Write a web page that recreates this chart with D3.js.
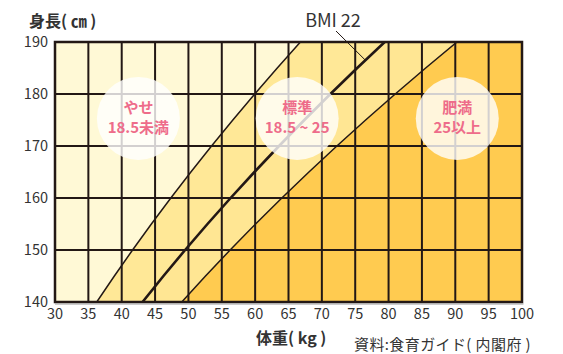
<!DOCTYPE html>
<html>
<head>
<meta charset="utf-8">
<script src="https://cdn.jsdelivr.net/npm/d3@7"></script>
<style>
  body { margin: 0; background: #fff; }
  text { font-family: "Noto Sans CJK JP", "Noto Sans", sans-serif; }
</style>
</head>
<body>
<svg width="563" height="354"></svg>
<script>
// values
const weightTicks = [30, 35, 40, 45, 50, 55, 60, 65, 70, 75, 80, 85, 90, 95, 100];
const heightTicks = [140, 150, 160, 170, 180, 190];
const heightSteps = [140, 145, 150, 155, 160, 165, 170, 175, 180, 185, 190];
const bmiLines = [18.5, 22, 25];
const bandColors = ["#fff9d6", "#ffe897", "#ffe693", "#ffcb50"];
const labelNames = ["やせ", "標準", "肥満"];
const labelRanges = ["18.5未満", "18.5 ~ 25", "25以上"];
const labelWeights = [42.5, 66.3, 90.3];
const labelHeight = 175.3;

const svg = d3.select("svg");

const x = d3.scaleLinear().domain([30, 100]).range([55, 522]);
const y = d3.scaleLinear().domain([140, 190]).range([302, 42]);

// weight on a BMI line for a given height
const wAt = (bmi, h) => bmi * h * h / 10000;

const linePts = bmi => heightSteps.map(h => [x(wAt(bmi, h)), y(h)]);

// bands
const bands = [];
bands.push([[x(30), y(140)], [x(30), y(190)], ...linePts(bmiLines[0]).reverse()]);
for (let i = 0; i < bmiLines.length - 1; i++) {
  bands.push([...linePts(bmiLines[i]), ...linePts(bmiLines[i + 1]).reverse()]);
}
bands.push([...linePts(bmiLines[2]), [x(100), y(190)], [x(100), y(140)]]);

svg.append("defs").append("clipPath").attr("id", "plot")
  .append("rect")
  .attr("x", x(30)).attr("y", y(190))
  .attr("width", x(100) - x(30)).attr("height", y(140) - y(190));

const plot = svg.append("g").attr("clip-path", "url(#plot)");

plot.selectAll(".band")
  .data(bands)
  .join("path")
  .attr("class", "band")
  .attr("fill", (d, i) => bandColors[i])
  .attr("d", d => "M" + d.join("L") + "Z");

// grid
svg.append("g")
  .selectAll("line")
  .data(weightTicks)
  .join("line")
  .attr("x1", d => x(d)).attr("x2", d => x(d))
  .attr("y1", y(190)).attr("y2", y(140))
  .attr("stroke", "#231815")
  .attr("stroke-width", 2);

svg.append("g")
  .selectAll("line")
  .data(heightTicks)
  .join("line")
  .attr("x1", x(30)).attr("x2", x(100))
  .attr("y1", d => y(d)).attr("y2", d => y(d))
  .attr("stroke", "#231815")
  .attr("stroke-width", 2);

// bmi lines
plot.selectAll(".bmi")
  .data(bmiLines)
  .join("path")
  .attr("class", "bmi")
  .attr("fill", "none")
  .attr("stroke", "#231815")
  .attr("stroke-width", d => d == 22 ? 2.6 : 1.5)
  .attr("d", d => d3.line()(linePts(d)));

// frame
svg.append("rect")
  .attr("x", x(30)).attr("y", y(190))
  .attr("width", x(100) - x(30)).attr("height", y(140) - y(190))
  .attr("fill", "none")
  .attr("stroke", "#231815")
  .attr("stroke-width", 2.5);
svg.append("line")
  .attr("x1", x(30)).attr("x2", x(100) + 1.5)
  .attr("y1", y(140) + 2).attr("y2", y(140) + 2)
  .attr("stroke", "#9a9a9a").attr("stroke-width", 1);

// BMI 22 callout
const h22 = 186.5;
svg.append("line")
  .attr("x1", 336).attr("y1", 31)
  .attr("x2", x(wAt(22, h22))).attr("y2", y(h22))
  .attr("stroke", "#231815").attr("stroke-width", 1);
svg.append("text")
  .attr("x", 333).attr("y", 27)
  .attr("text-anchor", "middle")
  .attr("font-size", 18)
  .attr("fill", "#333")
  .text("BMI 22");

// circles
const circles = svg.append("g");
labelWeights.forEach((w, i) => {
  const cx = x(w), cy = y(labelHeight);
  circles.append("circle")
    .attr("cx", cx).attr("cy", cy).attr("r", 41.5)
    .attr("fill", "#fff")
    .attr("fill-opacity", 0.8);
  circles.append("text")
    .attr("x", cx).attr("y", cy - 5)
    .attr("text-anchor", "middle")
    .attr("font-size", 15).attr("font-weight", "bold")
    .attr("fill", "#ee6c8a")
    .text(labelNames[i]);
  circles.append("text")
    .attr("x", cx).attr("y", cy + 15)
    .attr("text-anchor", "middle")
    .attr("font-size", 15).attr("font-weight", "bold")
    .attr("fill", "#ee6c8a")
    .text(labelRanges[i]);
});

// tick labels
svg.append("g")
  .selectAll("text")
  .data(heightTicks)
  .join("text")
  .attr("x", 48).attr("y", d => y(d))
  .attr("dy", "0.36em")
  .attr("text-anchor", "end")
  .attr("font-size", 14.5)
  .attr("fill", "#333")
  .text(d => d);

svg.append("g")
  .selectAll("text")
  .data(weightTicks)
  .join("text")
  .attr("x", d => x(d)).attr("y", 314)
  .attr("dy", "0.36em")
  .attr("text-anchor", "middle")
  .attr("font-size", 14.5)
  .attr("fill", "#333")
  .text(d => d);

// axis titles
svg.append("text")
  .attr("x", 29).attr("y", 27)
  .attr("font-size", 16).attr("font-weight", "bold")
  .attr("fill", "#333")
  .text("身長( ㎝ )");

svg.append("text")
  .attr("x", 256).attr("y", 344)
  .attr("font-size", 16).attr("font-weight", "bold")
  .attr("fill", "#333")
  .text("体重( kg )");

svg.append("text")
  .attr("x", 354).attr("y", 350)
  .attr("font-size", 15)
  .attr("letter-spacing", 0.4)
  .attr("fill", "#333")
  .text("資料:食育ガイド( 内閣府 )");
</script>
</body>
</html>
